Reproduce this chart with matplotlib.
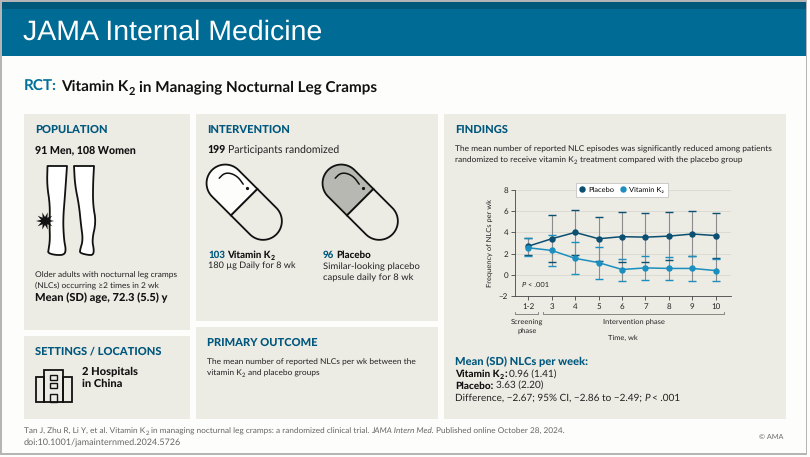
import matplotlib
matplotlib.use('Agg')
import matplotlib.pyplot as plt
from matplotlib.patches import Rectangle, Polygon
import numpy as np

plt.rcParams['font.family'] = ['Lato', 'DejaVu Sans']
plt.rcParams['text.hinting'] = 'no_hinting'

# chart values
weeks = ['1-2', '3', '4', '5', '6', '7', '8', '9', '10']
placebo_mean = [2.7, 3.4, 4.0, 3.4, 3.6, 3.55, 3.65, 3.85, 3.7]
placebo_upper = [3.5, 5.6, 6.1, 5.5, 5.95, 5.85, 5.9, 6.05, 5.8]
placebo_lower = [1.9, 1.25, 1.85, 1.3, 1.25, 1.2, 1.35, 1.75, 1.6]
vitamin_mean = [2.55, 2.3, 1.55, 1.15, 0.5, 0.65, 0.6, 0.6, 0.4]
vitamin_upper = [3.45, 3.75, 3.1, 2.65, 1.5, 1.75, 1.7, 1.75, 1.45]
vitamin_lower = [1.8, 0.85, 0.05, -0.4, -0.55, -0.5, -0.5, -0.6, -0.6]

NAVY = '#00577d'
PANEL = '#ecebe4'
DARK = '#0b4f71'
LIGHT = '#1b8fbf'
BLACK = '#111111'
TEXT = '#222222'
GREY = '#666666'
BODY = 6.05
CHART = 5.4
W, H = 810, 457

fig = plt.figure(figsize=(W / 100, H / 100), dpi=100, facecolor='#fdfdfb')
# full figure axes working in pixels, y goes down
bg = fig.add_axes([0, 0, 1, 1])
bg.set_xlim(0, W)
bg.set_ylim(H, 0)
bg.axis('off')


def box(x0, y0, x1, y1, color):
  bg.add_patch(Rectangle((x0, y0), x1 - x0, y1 - y0, fc=color, ec='none'))


def label(x, y, s, size=6.6, weight='normal', color=TEXT, **kw):
  return bg.text(x, y, s, fontsize=size, fontweight=weight, color=color, va='center', **kw)


# draws pieces of differing style one after the other on a line,
# '_2' inside a piece becomes a subscript
def runs(x, y, pieces, size=6.6):
  rend = fig.canvas.get_renderer()
  space = size * 0.33
  for piece in pieces:
    s, weight, color = piece[:3]
    style = piece[3] if len(piece) > 3 else 'normal'
    for i, part in enumerate(s.split('_2')):
      if i > 0:
        t = label(x + 0.3, y + size * 0.4, '2', size * 0.72, weight, color)
        x = t.get_window_extent(rend).x1 + 0.3
      if part.startswith(' '):
        x += space
      if part.strip():
        t = label(x, y, part.strip(), size, weight, color, style=style)
        x = t.get_window_extent(rend).x1
      if part.endswith(' '):
        x += space
    x += space


def smooth(pts, n=3):
  pts = np.array(pts, dtype=float)
  for i in range(n):
    q = 0.75 * pts[:-1] + 0.25 * pts[1:]
    r = 0.25 * pts[:-1] + 0.75 * pts[1:]
    new = np.empty((2 * len(q), 2))
    new[0::2] = q
    new[1::2] = r
    pts = np.vstack([pts[0], new, pts[-1]])
  return pts


# frame and header
box(0, 0, 807, 2, '#b5b5b5')
box(0, 0, 2, 455, '#b5b5b5')
box(0, 453, 807, 455, '#b5b5b5')
box(805.5, 0, 807, 455, '#b5b5b5')
box(2, 2, 805.5, 9, '#00587a')
box(2, 9, 805.5, 56, '#006b94')
label(23, 32, 'JAMA Internal Medicine', 20.5, color='white', family='Liberation Sans')

runs(24, 87, [('RCT:', 'bold', '#00709b'),
              ('Vitamin K_2 in Managing Nocturnal Leg Cramps', 'bold', BLACK)], 11)

# panels
box(24, 114, 190, 330, PANEL)
box(24, 336, 190, 419, PANEL)
box(196, 114, 438, 321, PANEL)
box(196, 327, 438, 419, PANEL)
box(444, 114, 786, 419, PANEL)

for x, y, s in [(35, 130, 'POPULATION'), (35, 351, 'SETTINGS / LOCATIONS'),
                (207, 130, 'INTERVENTION'), (207, 342.5, 'PRIMARY OUTCOME'),
                (455, 130, 'FINDINGS')]:
  label(x, y, s, 8, 900, NAVY)

# population
label(35, 150, '91 Men, 108 Women', 7.7, 900, BLACK)
label(35, 275, 'Older adults with nocturnal leg cramps', BODY)
label(35, 285, '(NLCs) occurring \u22652 times in 2 wk', BODY)
label(35, 298, 'Mean (SD) age, 72.3 (5.5) y', 8, 900, BLACK)

# legs in pixels
left_leg = [(47.5, 166), (47, 185), (50, 205), (49.5, 225), (50, 240), (48.5, 250), (48, 253),
            (55, 255), (64, 255), (66, 250), (64, 240), (63, 220), (65, 195), (67, 166)]
right_leg = [(74, 166), (75, 185), (79, 205), (81, 225), (83, 240), (80, 250), (80, 253),
             (88, 255), (93, 255), (94, 250), (92, 240), (96, 222), (93, 205), (93, 185), (94, 166)]
for leg in (left_leg, right_leg):
  pts = smooth(leg, 2)
  bg.fill(pts[:, 0], pts[:, 1], fc='white', ec=BLACK, lw=1.3, joinstyle='round')
ang = np.linspace(0, 2 * np.pi, 20, endpoint=False)
rad = np.where(np.arange(20) % 2 == 0, 9, 4)
bg.add_patch(Polygon(np.c_[45 + rad * np.cos(ang), 221 + rad * np.sin(ang)], fc=BLACK, ec='none'))

# hospital icon
for x0, y0, x1, y1 in [(44, 370, 63, 402), (36, 377, 44, 402), (63, 377, 71.5, 402)]:
  bg.add_patch(Rectangle((x0, y0), x1 - x0, y1 - y0, fc='none', ec=BLACK, lw=1.3))
for x0, y0, x1, y1 in [(50, 375, 57, 380), (50, 383, 57, 388), (50, 394, 57, 402)]:
  bg.add_patch(Rectangle((x0, y0), x1 - x0, y1 - y0, fc='none', ec=BLACK, lw=1.0))
label(82, 372, '2 Hospitals', 8, 900, BLACK)
label(82, 384, 'in China', 8, 900, BLACK)


# capsule icon, two halves around the seam
def capsule(cx, cy, top_color):
  r = 18.7
  half = 26.8
  d = np.array([np.cos(np.pi / 4), np.sin(np.pi / 4)])
  n = np.array([d[1], -d[0]])
  t = np.linspace(-np.pi / 2, np.pi / 2, 40)
  c = np.array([cx, cy])
  c0 = c - d * half
  c1 = c + d * half
  upper = np.array([c0 + r * (-np.cos(a) * d + np.sin(a) * n) for a in t[::-1]])
  lower = np.array([c1 + r * (np.cos(a) * d + np.sin(a) * n) for a in t])
  bg.add_patch(Polygon(np.vstack([c + n * r, upper, c - n * r]), closed=True, fc=top_color, ec=BLACK, lw=1.3))
  bg.add_patch(Polygon(np.vstack([c - n * r, lower, c + n * r]), closed=True, fc=PANEL, ec=BLACK, lw=1.3))
  gloss = smooth([(cx - 25, cy - 24), (cx - 20, cy - 29), (cx - 13, cy - 29), (cx - 6, cy - 25), (cx - 1, cy - 18)], 3)
  bg.plot(gloss[:, 0], gloss[:, 1], color=BLACK, lw=1.1, solid_capstyle='round')
  bg.plot([cx + 3], [cy - 14], 'o', color=BLACK, ms=1.3)


capsule(244.2, 202.2, '#fdfdfb')
capsule(360.2, 202.2, '#b8b8b3')

runs(207, 150, [('199', 900, BLACK), ('Participants randomized', 'normal', TEXT)], 7.6)
runs(208, 255, [('103', 900, NAVY), ('Vitamin K_2', 900, BLACK)], 7)
label(208, 266, '180 \u00b5g Daily for 8 wk', 6.6)
runs(323, 255, [('96', 900, NAVY), ('Placebo', 900, BLACK)], 7)
label(323, 267, 'Similar-looking placebo', 6.8)
label(323, 278, 'capsule daily for 8 wk', 6.8)

label(207, 362, 'The mean number of reported NLCs per wk between the', BODY)
runs(207, 373, [('vitamin K_2 and placebo groups', 'normal', TEXT)], BODY)

# findings text
label(455, 149, 'The mean number of reported NLC episodes was significantly reduced among patients', BODY)
runs(455, 160, [('randomized to receive vitamin K_2 treatment compared with the placebo group', 'normal', TEXT)], BODY)
label(455, 362, 'Mean (SD) NLCs per week:', 8, 900, NAVY)
runs(455, 374.5, [('Vitamin K_2:', 900, BLACK), ('0.96 (1.41)', 'normal', TEXT)], 7.2)
runs(455, 386, [('Placebo:', 900, BLACK), ('3.63 (2.20)', 'normal', TEXT)], 7.2)
runs(455, 398, [('Difference, \u22122.67; 95% CI, \u22122.86 to \u22122.49;', 'normal', TEXT),
                ('P', 'normal', TEXT, 'italic'), ('< .001', 'normal', TEXT)], 7.2)

# footer
runs(24, 431, [('Tan J, Zhu R, Li Y, et al. Vitamin K_2 in managing nocturnal leg cramps: a randomized clinical trial.', 'normal', GREY),
               ('JAMA Intern Med.', 'normal', GREY, 'italic'),
               ('Published online October 28, 2024.', 'normal', GREY)], 5.95)
label(24, 442.5, 'doi:10.1001/jamainternmed.2024.5726', 6.5, color=GREY)
label(783, 437, '\u00a9 AMA', 5.2, color=GREY, ha='right')

# the chart itself
ax = fig.add_axes([515 / W, 1 - 296 / H, (731 - 515) / W, (296 - 190) / H])
ax.patch.set_alpha(0)
pos = np.arange(len(weeks))
ax.set_xlim(-0.567, 8.65)
ax.set_ylim(-2, 8)
ax.set_yticks([-2, 0, 2, 4, 6, 8])
ax.set_yticklabels(['\u22122', '0', '2', '4', '6', '8'])
ax.set_xticks(pos)
ax.set_xticklabels(weeks)
ax.tick_params(labelsize=5.8, length=3, width=0.6, color='#444444', labelcolor=TEXT, pad=2)
ax.grid(axis='y', color='#d8d8d2', lw=0.6)
ax.set_axisbelow(True)
for s in ('top', 'right'):
  ax.spines[s].set_visible(False)
for s in ('left', 'bottom'):
  ax.spines[s].set_linewidth(0.6)
  ax.spines[s].set_color('#444444')
ax.set_ylabel('Frequency of NLCs per wk', fontsize=CHART, color=TEXT, labelpad=4)

for mean, upper, lower, color, name in [
    (placebo_mean, placebo_upper, placebo_lower, DARK, 'Placebo'),
    (vitamin_mean, vitamin_upper, vitamin_lower, LIGHT, 'Vitamin K\u2082')]:
  ax.vlines(pos, lower, upper, color='#8c8c8c', lw=0.8, zorder=2)
  ax.hlines(upper, pos - 0.17, pos + 0.17, color=color, lw=1.0, zorder=3)
  ax.hlines(lower, pos - 0.17, pos + 0.17, color=color, lw=1.0, zorder=3)
  ax.plot(pos, mean, '-o', color=color, lw=1.1, ms=3.6, zorder=4, label=name)

leg = ax.legend(loc='center', bbox_to_anchor=(0.495, 1.0), ncol=2, fontsize=CHART, frameon=True,
                fancybox=False, framealpha=1, edgecolor='#bbbbbb', handlelength=0.8,
                handletextpad=0.4, columnspacing=0.8, borderpad=0.5)
leg.get_frame().set_linewidth(0.5)
for line in leg.get_lines():
  line.set_linestyle('none')
runs(522, 285, [('P', 'normal', TEXT, 'italic'), ('< .001', 'normal', TEXT)], CHART)

# phase brackets below the axis
bg.plot([515, 515, 538, 538], [312, 314, 314, 312], color='#777777', lw=0.6)
bg.plot([543, 543, 724, 724], [312, 314, 314, 312], color='#777777', lw=0.6)
label(527, 322, 'Screening', CHART, ha='center')
label(527, 331, 'phase', CHART, ha='center')
label(634, 322, 'Intervention phase', CHART, ha='center')
label(623, 338, 'Time, wk', CHART, ha='center')

fig.savefig('out.png', dpi=100)
